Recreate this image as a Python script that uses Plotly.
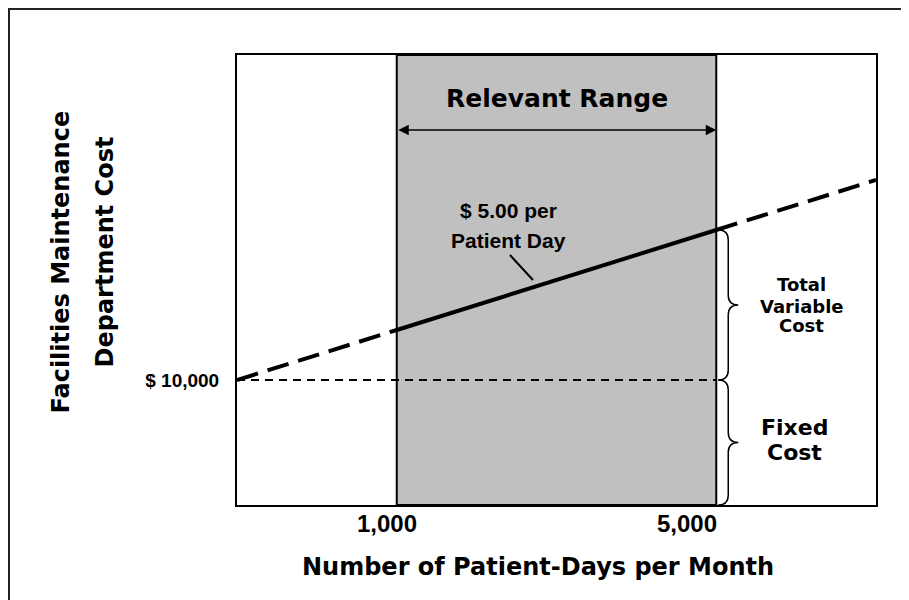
import plotly.graph_objects as go

# ---- data (schematic chart) ----
line_days = [-1000, 1000, 5000, 7000]          # left edge, relevant range start/end, right edge
line_cost = [10000, 20000, 40000, 50000]       # total cost line
fixed_cost = 10000
range_start, range_end = 1000, 5000
x_tick_vals = [1000, 5000]
x_tick_text = ["1,000", "5,000"]
y_tick_vals = [10000]
y_tick_text = ["$ 10,000"]

HEAVY = "DejaVu Sans"
PLAIN = "Liberation Sans"
fig = go.Figure()

# dashed total-cost line outside the relevant range
fig.add_trace(go.Scatter(x=line_days[:2], y=line_cost[:2], mode="lines",
                         line=dict(color="black", width=4, dash="22px,10px"),
                         showlegend=False, hoverinfo="skip"))
fig.add_trace(go.Scatter(x=line_days[2:], y=line_cost[2:], mode="lines",
                         line=dict(color="black", width=4, dash="22px,10px"),
                         showlegend=False, hoverinfo="skip"))
# solid line inside the relevant range
fig.add_trace(go.Scatter(x=line_days[1:3], y=line_cost[1:3], mode="lines",
                         line=dict(color="black", width=4),
                         showlegend=False, hoverinfo="skip"))
# fixed cost dashed line
fig.add_trace(go.Scatter(x=[line_days[0], range_end], y=[fixed_cost, fixed_cost], mode="lines",
                         line=dict(color="black", width=2, dash="8px,6px"),
                         showlegend=False, hoverinfo="skip"))

shapes = []
# relevant range shading
shapes.append(dict(type="rect", xref="x", yref="paper", x0=range_start, x1=range_end, y0=0, y1=1,
                   fillcolor="#C0C0C0", line=dict(color="black", width=2), layer="below"))
# outer frame
shapes.append(dict(type="rect", xref="paper", yref="paper", x0=-0.3568, x1=2, y0=-2, y1=1.1022,
                   line=dict(color="#222", width=2), fillcolor="rgba(0,0,0,0)"))
# pointer line to the slope
shapes.append(dict(type="line", xref="x", yref="y", x0=2417, y0=35000, x1=2705, y1=30000,
                   line=dict(color="black", width=2)))

# braces (x in pixels relative to the 5,000 position, y in data)
def brace(top, bot, d=2000):
    mid = (top + bot) / 2
    return (f"M 2,{top} Q 12,{top} 12,{top - d} L 12,{mid + d} Q 12,{mid} 22,{mid} "
            f"Q 12,{mid} 12,{mid - d} L 12,{bot + d} Q 12,{bot} 2,{bot}")

shapes.append(dict(type="path", xref="x", yref="y", xsizemode="pixel", xanchor=range_end,
                   path=brace(line_cost[2], fixed_cost), line=dict(color="black", width=1.5)))
shapes.append(dict(type="path", xref="x", yref="y", xsizemode="pixel", xanchor=range_end,
                   path=brace(fixed_cost, -15000), line=dict(color="black", width=1.5)))

ann = []
def heavy(size):
    return dict(family=HEAVY, size=size, color="black", weight="bold")

def plain(size):
    return dict(family=PLAIN, size=size, color="black", weight="bold")

def note(text, x, y, font, xref="paper", yref="paper", **kw):
    d = dict(text=text, x=x, y=y, xref=xref, yref=yref, showarrow=False, font=font,
             xanchor="center", yanchor="middle")
    d.update(kw)
    ann.append(d)

note("Relevant Range", (range_start + range_end) / 2, 0.904, heavy(25), xref="x")
ann.append(dict(text="", xref="x", yref="y", x=range_end, y=60000, ax=range_start, ay=60000,
                axref="x", ayref="y", showarrow=True, arrowside="end+start", arrowhead=2,
                arrowsize=1.4, arrowwidth=1.5, arrowcolor="black"))
note("$ 5.00 per", 2404, 44000, plain(21), xref="x", yref="y")
note("Patient Day", 2404, 38000, plain(21), xref="x", yref="y")
note("Total", 0.884, 0.4889, heavy(18))
note("Variable", 0.884, 0.4422, heavy(18))
note("Cost", 0.884, 0.40, heavy(18))
note("Fixed", 0.872, 0.1733, heavy(22))
note("Cost", 0.872, 0.1156, heavy(22))
# x tick labels
for v, t, sh in zip(x_tick_vals, x_tick_text, [-10, -29]):
    note(t, v, -0.0422, plain(24), xref="x", xshift=sh)
# axis titles
note("Number of Patient-Days per Month", 0.471, -0.1378, heavy(24))
note("Facilities Maintenance", -0.2754, 0.5389, heavy(24), textangle=-90)
note("Department Cost", -0.2066, 0.5633, heavy(24), textangle=-90)

fig.update_layout(
    width=901, height=592,
    margin=dict(l=229, r=33, t=47, b=95),
    paper_bgcolor="white", plot_bgcolor="white",
    shapes=shapes, annotations=ann, showlegend=False,
    xaxis=dict(range=[-1000, 7000], showgrid=False, zeroline=False, showticklabels=False,
               showline=True, linecolor="black", linewidth=2, mirror=True, ticks=""),
    yaxis=dict(range=[-15000, 75000], showgrid=False, zeroline=False,
               tickvals=y_tick_vals, ticktext=y_tick_text, ticks="", ticklabelstandoff=12,
               tickfont=dict(family=PLAIN, size=19, color="black", weight="bold"),
               showline=True, linecolor="black", linewidth=2, mirror=True),
)

fig.write_html("out.html")
